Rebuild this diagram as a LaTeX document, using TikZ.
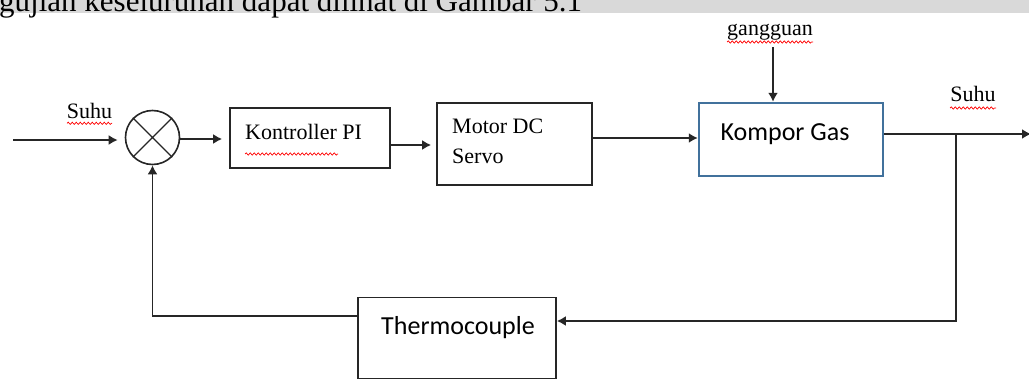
\documentclass[tikz,border=0pt]{standalone}
\usepackage{fontspec}
\setmainfont{Liberation Serif}
\newfontfamily\calfont{Carlito}
\usetikzlibrary{arrows.meta,decorations.pathmorphing}
\definecolor{boxblue}{RGB}{65,113,156}
\definecolor{bandgray}{RGB}{217,217,217}
\begin{document}
\begin{tikzpicture}[x=1pt,y=-1pt,
  conn/.style={line width=1.7pt,draw=black!85},
  arr/.style={conn,-{Latex[length=9pt,width=10pt]}},
  blk/.style={draw=black!85,line width=1.7pt,rectangle,inner sep=0pt},
  serif/.style={inner sep=0pt,font=\fontsize{22}{26}\selectfont},
  sans/.style={inner sep=0pt,font=\calfont\fontsize{26}{30}\selectfont},
  spell/.style={draw=red,line width=0.7pt,decorate,decoration={snake,segment length=4pt,amplitude=1.1pt}}]
\clip (0,0) rectangle (1029,380);
\fill[white] (0,0) rectangle (1029,380);
% watermark band and cut-off heading
\fill[bandgray] (0,0) rectangle (1029,13);
\node[inner sep=0pt,anchor=base west,font=\fontsize{31}{36}\selectfont] (head) at (-1,11) {gujian keseluruhan dapat dilihat di Gambar 5.1};
% summing junction
\node[draw=black!85,line width=1.6pt,circle,minimum size=54pt,inner sep=0pt] (sum) at (152.5,137.5) {};
\draw[line width=1.3pt,black!85] (sum.45) -- (sum.225) (sum.135) -- (sum.-45);
% blocks
\node[blk,minimum width=160pt,minimum height=60pt] (kpi) at (310,138) {};
\node[serif,anchor=base west] (kpit) at (245,139) {Kontroller PI};
\node[blk,minimum width=155pt,minimum height=82pt] (mot) at (514.5,144) {};
\node[serif,anchor=base west] (mott1) at (452,133) {Motor DC};
\node[serif,anchor=base west] (mott2) at (452,163) {Servo};
\node[draw=boxblue,line width=2.5pt,rectangle,inner sep=0pt,minimum width=184pt,minimum height=73pt] (kg) at (791,139.5) {};
\node[sans,anchor=base] (kgt) at (785,140) {Kompor Gas};
\node[blk,minimum width=198pt,minimum height=81pt] (th) at (457,338) {};
\node[sans,anchor=base] (tht) at (458,334) {Thermocouple};
% labels
\node[serif,anchor=base] (suhuin) at (89.5,118) {Suhu};
\node[serif,anchor=base] (suhuout) at (973,101) {Suhu};
\node[serif,anchor=base] (dist) at (770,35) {gangguan};
% spell-check underlines
\draw[spell] (67,123.3) -- (112,123.3);
\draw[spell] (245,154) -- (338,154);
\draw[spell] (727,42) -- (813,42);
\draw[spell] (950,108) -- (996,108);
% connectors
\coordinate (in) at (13,140);
\coordinate (d) at (773,47);
\coordinate (out) at (1031,134);
\coordinate (br) at (956,134);
\draw[arr,shorten >=7pt] (in) -- (sum.west |- in);
\draw[arr,shorten >=7pt] (sum.east |- 0,139) -- (kpi.west |- 0,139);
\draw[arr,shorten >=5pt] (kpi.east |- 0,145) -- (mot.west |- 0,145);
\draw[arr] (mot.east |- 0,138) -- (kg.west |- 0,138);
\draw[arr] (d) -- (d |- kg.north);
\draw[arr] (kg.east |- out) -- (out);
\draw[arr] (br) |- (th.east |- 0,321);
\draw[arr] (th.west |- 0,316) -| (sum.south);
\end{tikzpicture}
\end{document}
